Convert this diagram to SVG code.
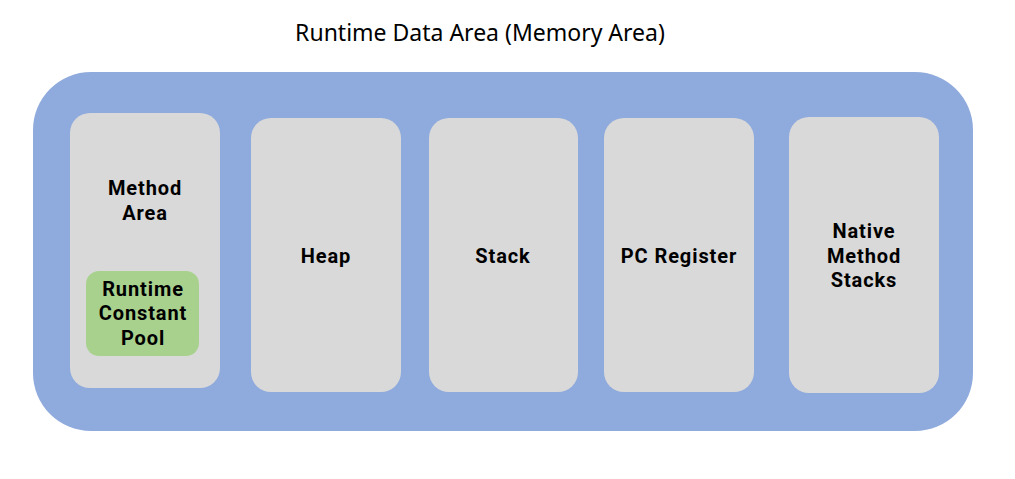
<svg xmlns="http://www.w3.org/2000/svg" width="1015" height="479" viewBox="0 0 1015 479">
<style>
.box{fill:#D9D9D9}
.lbl{font-family:Roboto,"Noto Sans",sans-serif;font-weight:bold;font-size:20px;letter-spacing:0.9px;fill:#000;text-anchor:middle}
.title{font-family:"Noto Sans","Open Sans",sans-serif;font-size:23px;fill:#000;text-anchor:middle}
</style>
<rect width="1015" height="479" fill="#fff"/>
<text class="title" x="480" y="41">Runtime Data Area (Memory Area)</text>
<g id="runtime-data-area"><rect x="33" y="72" width="940" height="359" rx="58" fill="#8FAADC"/></g>
<g id="method-area">
<rect class="box" x="70" y="113" width="150" height="275" rx="20"/>
<text class="lbl" x="145" y="195">Method</text>
<text class="lbl" x="145" y="220">Area</text>
</g>
<g id="runtime-constant-pool">
<rect x="86" y="271" width="113" height="85" rx="13" fill="#A9D18E"/>
<text class="lbl" x="143" y="296">Runtime</text>
<text class="lbl" x="143" y="320">Constant</text>
<text class="lbl" x="143" y="345">Pool</text>
</g>
<g id="heap">
<rect class="box" x="251" y="118" width="150" height="274" rx="20"/>
<text class="lbl" x="326" y="263">Heap</text>
</g>
<g id="stack">
<rect class="box" x="429" y="118" width="149" height="274" rx="20"/>
<text class="lbl" x="503" y="263">Stack</text>
</g>
<g id="pc-register">
<rect class="box" x="604" y="118" width="150" height="274" rx="20"/>
<text class="lbl" x="679" y="263">PC Register</text>
</g>
<g id="native-method-stacks">
<rect class="box" x="789" y="117" width="150" height="276" rx="20"/>
<text class="lbl" x="864" y="238">Native</text>
<text class="lbl" x="864" y="263">Method</text>
<text class="lbl" x="864" y="287">Stacks</text>
</g>
<g id="connectors"/>
</svg>
